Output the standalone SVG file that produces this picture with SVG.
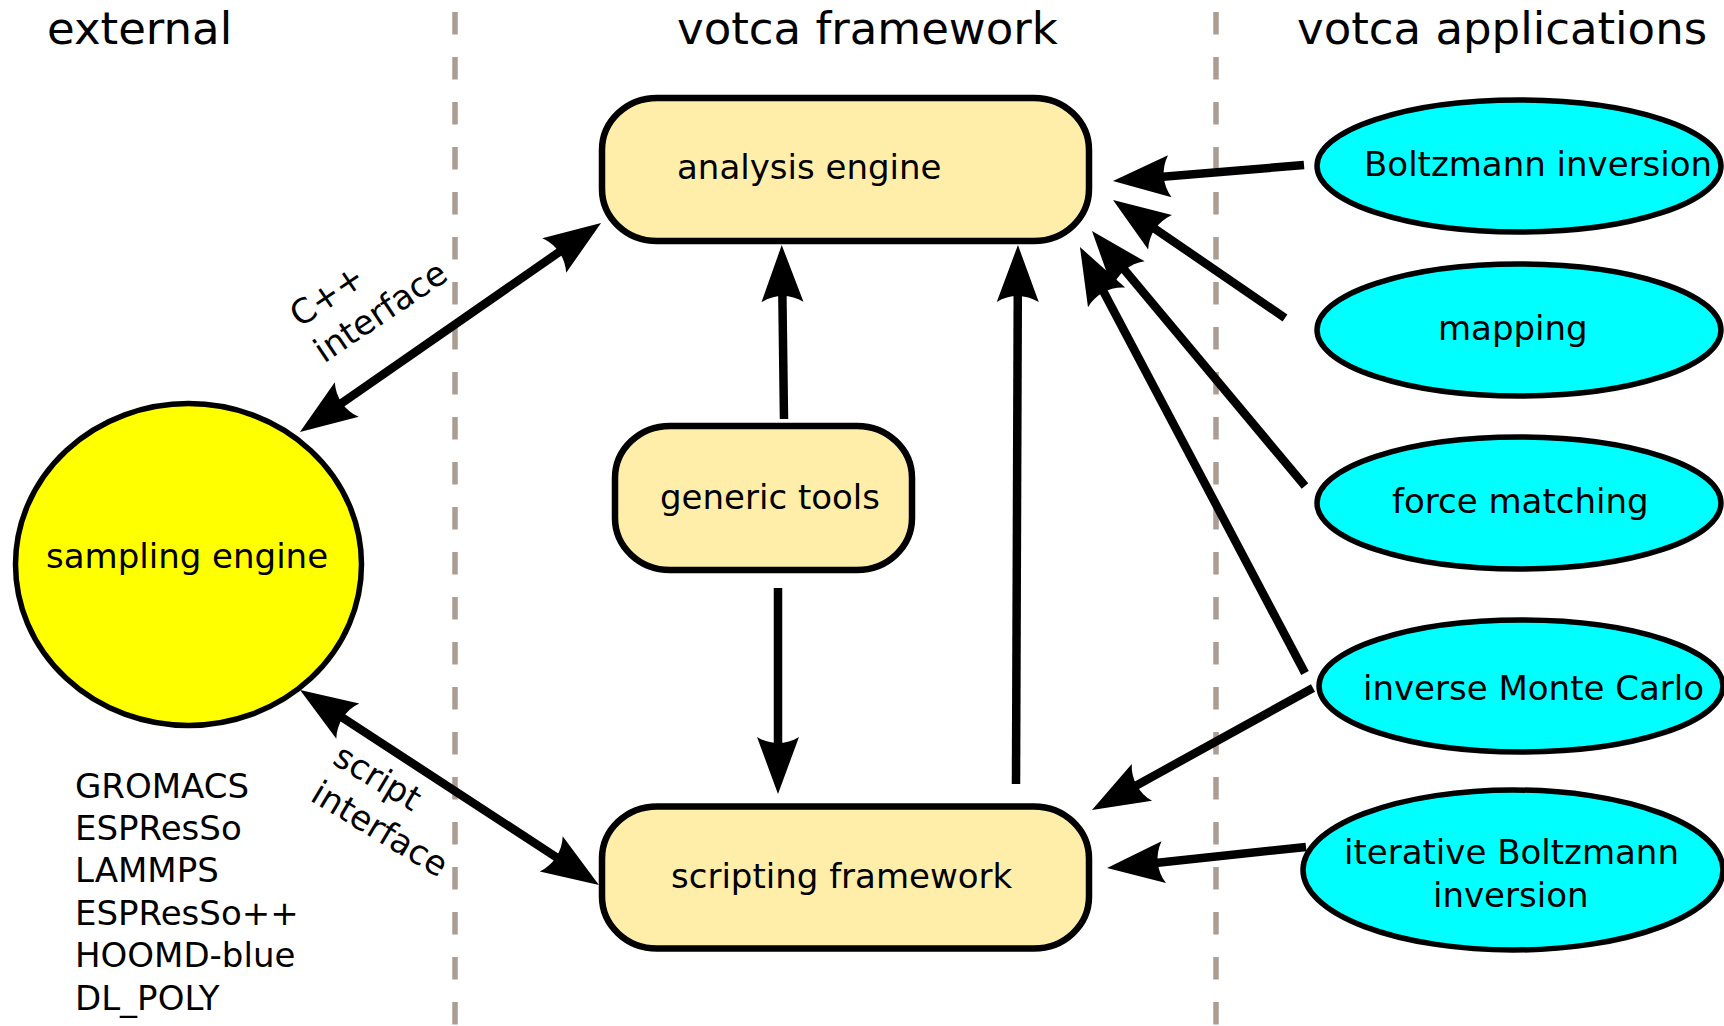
<svg xmlns="http://www.w3.org/2000/svg" width="1724" height="1026" viewBox="0 0 1724 1026">
  <style>
    text { font-family: "DejaVu Sans", "Liberation Sans", sans-serif; fill: #000; }
    .title { font-size: 45px; }
    .label { font-size: 34px; }
    .small { font-size: 34px; }
    .sep { stroke: #ab9d92; stroke-width: 5.5; stroke-dasharray: 22.5 22.5; fill: none; }
    .box { fill: #ffeeaa; stroke: #000; stroke-width: 6.5; }
    .app { fill: #00ffff; stroke: #000; stroke-width: 5.5; }
    .ext { fill: #ffff00; stroke: #000; stroke-width: 5.5; }
    .arrow { stroke: #000; stroke-width: 8.5; fill: none; stroke-linecap: butt; }
    .one { marker-end: url(#head); }
    .both { marker-start: url(#head); marker-end: url(#head); }
  </style>
  <defs>
    <!-- curved-back arrowhead; the line stops 44px short of the tip -->
    <marker id="head" markerUnits="userSpaceOnUse" orient="auto-start-reverse" refX="0" refY="0" markerWidth="60" markerHeight="60" overflow="visible">
      <path d="M44,0 L-13,-21 C-5,-8 -5,8 -13,21 Z" fill="#000"/>
    </marker>
  </defs>
  <rect width="1724" height="1026" fill="#fff"/>

  <!-- column separators -->
  <line class="sep" x1="455" y1="12" x2="455" y2="1026"/>
  <line class="sep" x1="1216" y1="12" x2="1216" y2="1026"/>

  <!-- column headings -->
  <text class="title" x="47" y="44">external</text>
  <text class="title" x="677" y="44">votca framework</text>
  <text class="title" x="1297" y="44">votca applications</text>

  <!-- connectors -->
  <g id="connectors">
    <line class="arrow both" x1="336.1" y1="406.9" x2="564.9" y2="248.1"/>
    <line class="arrow both" x1="336.9" y1="714.0" x2="562.1" y2="861.0"/>
    <line class="arrow one" x1="784" y1="419" x2="782.3" y2="289"/>
    <line class="arrow one" x1="778" y1="588" x2="778" y2="750"/>
    <line class="arrow one" x1="1016" y1="784" x2="1017.8" y2="289"/>
    <line class="arrow one" x1="1304" y1="165" x2="1156.8" y2="177.3"/>
    <line class="arrow one" x1="1285" y1="318" x2="1149.3" y2="224.9"/>
    <line class="arrow one" x1="1305" y1="486" x2="1120.2" y2="264.8"/>
    <line class="arrow one" x1="1305" y1="673" x2="1100.5" y2="285.9"/>
    <line class="arrow one" x1="1313" y1="688" x2="1130.5" y2="788.7"/>
    <line class="arrow one" x1="1306" y1="847" x2="1150.8" y2="863.4"/>
    <!-- interface labels -->
    <g transform="translate(300,328) rotate(-34)">
      <text class="small" x="0" y="0">C++</text>
      <text class="small" x="0" y="43">interface</text>
    </g>
    <g transform="translate(331,763) rotate(31)">
      <text class="small" x="0" y="0">script</text>
      <text class="small" x="0" y="43">interface</text>
    </g>
  </g>

  <!-- external simulation package -->
  <g id="sampling-engine">
    <ellipse class="ext" cx="188.5" cy="564.5" rx="173" ry="161"/>
    <text class="label" x="46" y="568">sampling engine</text>
  </g>
  <g id="packages">
    <text class="label" x="75" y="798">GROMACS</text>
    <text class="label" x="75" y="840">ESPResSo</text>
    <text class="label" x="75" y="882">LAMMPS</text>
    <text class="label" x="75" y="925">ESPResSo++</text>
    <text class="label" x="75" y="967">HOOMD-blue</text>
    <text class="label" x="75" y="1010">DL_POLY</text>
  </g>

  <!-- framework components -->
  <g id="analysis-engine">
    <rect class="box" x="602" y="98" width="487" height="143" rx="55" ry="52"/>
    <text class="label" x="677" y="179">analysis engine</text>
  </g>
  <g id="generic-tools">
    <rect class="box" x="615" y="426" width="297" height="144" rx="55" ry="52"/>
    <text class="label" x="660" y="509">generic tools</text>
  </g>
  <g id="scripting-framework">
    <rect class="box" x="602" y="806.5" width="487" height="142" rx="55" ry="52"/>
    <text class="label" x="671" y="888">scripting framework</text>
  </g>

  <!-- applications -->
  <g id="boltzmann-inversion">
    <ellipse class="app" cx="1519" cy="166" rx="202" ry="66"/>
    <text class="label" x="1364" y="176">Boltzmann inversion</text>
  </g>
  <g id="mapping">
    <ellipse class="app" cx="1519" cy="330" rx="202" ry="66"/>
    <text class="label" x="1438" y="340">mapping</text>
  </g>
  <g id="force-matching">
    <ellipse class="app" cx="1519" cy="503" rx="202" ry="66"/>
    <text class="label" x="1392" y="513">force matching</text>
  </g>
  <g id="inverse-monte-carlo">
    <ellipse class="app" cx="1521" cy="686" rx="202" ry="66"/>
    <text class="label" x="1363" y="700">inverse Monte Carlo</text>
  </g>
  <g id="iterative-boltzmann-inversion">
    <ellipse class="app" cx="1513" cy="870" rx="210" ry="80"/>
    <text class="label" x="1344" y="864">iterative Boltzmann</text>
    <text class="label" x="1433" y="907">inversion</text>
  </g>
</svg>
